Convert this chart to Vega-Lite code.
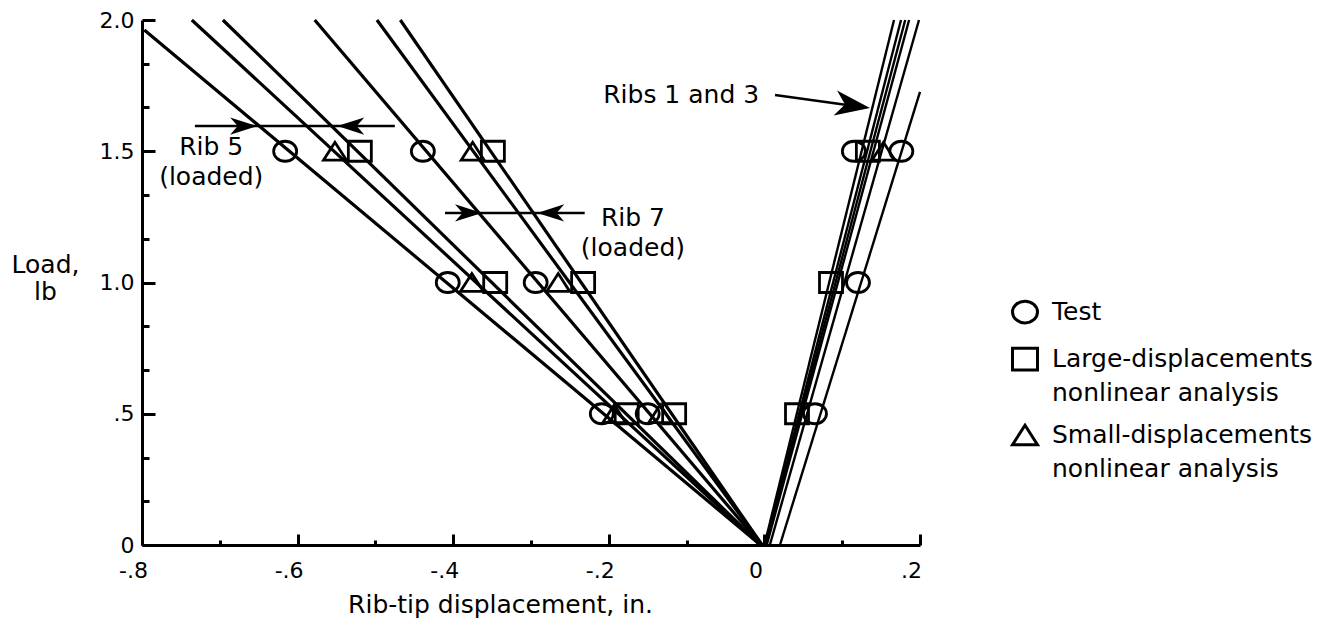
{
  "$schema": "https://vega.github.io/schema/vega-lite/v6.json",
  "width": 778,
  "height": 525,
  "autosize": {"type": "none"},
  "padding": {"left": 142, "top": 20, "right": 422, "bottom": 90},
  "background": "white",
  "config": {
    "font": "DejaVu Sans",
    "view": {"stroke": null},
    "axis": {"grid": false},
    "style": {"guide-label": {"lineHeight": 34}}
  },
  "datasets": {
    "lines": [
      {"line": "L1", "side": "left", "x": -0.797, "y": 1.962},
      {"line": "L1", "side": "left", "x": -0.005, "y": 0},
      {"line": "L2", "side": "left", "x": -0.736, "y": 2.0},
      {"line": "L2", "side": "left", "x": -0.005, "y": 0},
      {"line": "L3", "side": "left", "x": -0.696, "y": 2.0},
      {"line": "L3", "side": "left", "x": -0.005, "y": 0},
      {"line": "L4", "side": "left", "x": -0.578, "y": 2.0},
      {"line": "L4", "side": "left", "x": -0.004, "y": 0},
      {"line": "L5", "side": "left", "x": -0.498, "y": 2.0},
      {"line": "L5", "side": "left", "x": -0.003, "y": 0},
      {"line": "L6", "side": "left", "x": -0.468, "y": 2.0},
      {"line": "L6", "side": "left", "x": -0.003, "y": 0},
      {"line": "R1", "side": "right", "x": 0.0, "y": 0},
      {"line": "R1", "side": "right", "x": 0.1666, "y": 2.0},
      {"line": "R2", "side": "right", "x": 0.001, "y": 0},
      {"line": "R2", "side": "right", "x": 0.1756, "y": 2.0},
      {"line": "R3", "side": "right", "x": 0.002, "y": 0},
      {"line": "R3", "side": "right", "x": 0.181, "y": 2.0},
      {"line": "R4", "side": "right", "x": 0.003, "y": 0},
      {"line": "R4", "side": "right", "x": 0.186, "y": 2.0},
      {"line": "R5", "side": "right", "x": 0.007, "y": 0},
      {"line": "R5", "side": "right", "x": 0.1987, "y": 2.0},
      {"line": "R6", "side": "right", "x": 0.02, "y": 0},
      {"line": "R6", "side": "right", "x": 0.2, "y": 1.726}
    ],
    "points": [
      {"kind": "Test", "x": -0.616, "y": 1.5},
      {"kind": "Small-displacements nonlinear analysis", "x": -0.552, "y": 1.5},
      {"kind": "Large-displacements nonlinear analysis", "x": -0.52, "y": 1.5},
      {"kind": "Test", "x": -0.439, "y": 1.5},
      {"kind": "Small-displacements nonlinear analysis", "x": -0.375, "y": 1.5},
      {"kind": "Large-displacements nonlinear analysis", "x": -0.349, "y": 1.5},
      {"kind": "Test", "x": -0.407, "y": 1.0},
      {"kind": "Small-displacements nonlinear analysis", "x": -0.376, "y": 1.0},
      {"kind": "Large-displacements nonlinear analysis", "x": -0.346, "y": 1.0},
      {"kind": "Test", "x": -0.294, "y": 1.0},
      {"kind": "Small-displacements nonlinear analysis", "x": -0.265, "y": 1.0},
      {"kind": "Large-displacements nonlinear analysis", "x": -0.233, "y": 1.0},
      {"kind": "Test", "x": -0.209, "y": 0.5},
      {"kind": "Small-displacements nonlinear analysis", "x": -0.193, "y": 0.5},
      {"kind": "Large-displacements nonlinear analysis", "x": -0.177, "y": 0.5},
      {"kind": "Test", "x": -0.15, "y": 0.5},
      {"kind": "Small-displacements nonlinear analysis", "x": -0.134, "y": 0.5},
      {"kind": "Large-displacements nonlinear analysis", "x": -0.116, "y": 0.5},
      {"kind": "Test", "x": 0.115, "y": 1.5},
      {"kind": "Large-displacements nonlinear analysis", "x": 0.133, "y": 1.5},
      {"kind": "Small-displacements nonlinear analysis", "x": 0.153, "y": 1.5},
      {"kind": "Test", "x": 0.176, "y": 1.5},
      {"kind": "Large-displacements nonlinear analysis", "x": 0.0856, "y": 1.0},
      {"kind": "Test", "x": 0.1203, "y": 1.0},
      {"kind": "Large-displacements nonlinear analysis", "x": 0.0419, "y": 0.5},
      {"kind": "Test", "x": 0.065, "y": 0.5}
    ],
    "shafts": [
      {"x": -0.732, "y": 1.596, "x2": -0.475, "y2": 1.596},
      {"x": -0.4105, "y": 1.265, "x2": -0.231, "y2": 1.265},
      {"x": 0.0136, "y": 1.714, "x2": 0.125, "y2": 1.669}
    ],
    "heads": [
      {"dir": "right", "x": -0.652, "y": 1.596},
      {"dir": "left", "x": -0.549, "y": 1.596},
      {"dir": "right", "x": -0.363, "y": 1.265},
      {"dir": "left", "x": -0.292, "y": 1.265},
      {"dir": "slant", "x": 0.1357, "y": 1.665}
    ],
    "notes": [
      {"label": "Rib 5\n(loaded)", "x": -0.711, "y": 1.516},
      {"label": "Rib 7\n(loaded)", "x": -0.169, "y": 1.246},
      {"label": "Ribs 1 and 3", "x": -0.107, "y": 1.714}
    ]
  },
  "resolve": {"scale": {"x": "shared", "y": "shared"}},
  "layer": [
    {
      "data": {"name": "lines"},
      "transform": [{"filter": "datum.side == 'left'"}],
      "mark": {"type": "line", "color": "black", "strokeWidth": 3.2},
      "encoding": {
        "x": {
          "field": "x", "type": "quantitative",
          "scale": {"domain": [-0.8, 0.2], "nice": false, "zero": false},
          "axis": {
            "values": [-0.8, -0.7, -0.6, -0.5, -0.4, -0.3, -0.2, -0.1, 0, 0.1, 0.2],
            "labelExpr": "abs(datum.value*5 - round(datum.value*5)) > 0.001 ? '' : (datum.value == 0 ? '0' : replace(replace(format(datum.value, '.1f'), '\u2212', '-'), '0.', '.'))",
            "tickSize": {"condition": {"test": "abs(datum.value*5 - round(datum.value*5)) < 0.001", "value": -11}, "value": -5},
            "tickWidth": 3, "tickColor": "black",
            "domainWidth": 3, "domainColor": "black",
            "labelFontSize": 22, "labelColor": "black", "labelPadding": 26,
            "labelOffset": -9,
            "labelOverlap": false, "labelFlush": false, "labelBound": false,
            "title": "Rib-tip displacement, in.",
            "titleFontSize": 25, "titleFontWeight": "normal", "titleColor": "black",
            "titleX": 358, "titleY": 59, "titleBaseline": "middle", "titleAlign": "center"
          }
        },
        "y": {
          "field": "y", "type": "quantitative",
          "scale": {"domain": [0, 2], "nice": false, "zero": false},
          "axis": {
            "values": [0, 0.08333, 0.16667, 0.25, 0.33333, 0.41667, 0.5, 0.58333, 0.66667, 0.75, 0.83333, 0.91667, 1, 1.08333, 1.16667, 1.25, 1.33333, 1.41667, 1.5, 1.58333, 1.66667, 1.75, 1.83333, 1.91667, 2],
            "labelExpr": "abs(datum.value*2 - round(datum.value*2)) > 0.001 ? '' : (datum.value == 0 ? '0' : (datum.value < 1 ? '.5' : format(datum.value, '.1f')))",
            "tickSize": {"condition": {"test": "abs(datum.value*2 - round(datum.value*2)) < 0.001", "value": -13}, "value": -7},
            "tickWidth": 3, "tickColor": "black",
            "domainWidth": 3, "domainColor": "black",
            "labelFontSize": 22, "labelColor": "black", "labelPadding": 21,
            "labelOverlap": false, "labelFlush": false, "labelBound": false,
            "title": ["Load,", "lb"],
            "titleAngle": 0, "titleFontSize": 25, "titleFontWeight": "normal", "titleColor": "black",
            "titleX": -97, "titleY": 252, "titleBaseline": "alphabetic", "titleAlign": "center",
            "titleLineHeight": 27
          }
        },
        "detail": {"field": "line", "type": "nominal"}
      }
    },
    {
      "data": {"name": "lines"},
      "transform": [{"filter": "datum.side == 'right'"}],
      "mark": {"type": "line", "color": "black", "strokeWidth": 2.4},
      "encoding": {
        "x": {"field": "x", "type": "quantitative"},
        "y": {"field": "y", "type": "quantitative"},
        "detail": {"field": "line", "type": "nominal"}
      }
    },
    {
      "data": {"name": "shafts"},
      "mark": {"type": "rule", "color": "black", "strokeWidth": 2.5},
      "encoding": {
        "x": {"field": "x", "type": "quantitative"},
        "y": {"field": "y", "type": "quantitative"},
        "x2": {"field": "x2"},
        "y2": {"field": "y2"}
      }
    },
    {
      "data": {"name": "heads"},
      "transform": [{"filter": "datum.dir == 'right'"}],
      "mark": {"type": "point", "shape": "M0,0L-1,-0.32L-0.72,0L-1,0.32Z", "filled": true, "color": "black", "opacity": 1, "size": 2916, "strokeWidth": 0},
      "encoding": {
        "x": {"field": "x", "type": "quantitative"},
        "y": {"field": "y", "type": "quantitative"}
      }
    },
    {
      "data": {"name": "heads"},
      "transform": [{"filter": "datum.dir == 'left'"}],
      "mark": {"type": "point", "shape": "M0,0L1,-0.32L0.72,0L1,0.32Z", "filled": true, "color": "black", "opacity": 1, "size": 2916, "strokeWidth": 0},
      "encoding": {
        "x": {"field": "x", "type": "quantitative"},
        "y": {"field": "y", "type": "quantitative"}
      }
    },
    {
      "data": {"name": "heads"},
      "transform": [{"filter": "datum.dir == 'slant'"}],
      "mark": {"type": "point", "shape": "M0,0L-1,-0.36L-0.72,0L-1,0.36Z", "filled": true, "color": "black", "opacity": 1, "size": 4900, "strokeWidth": 0, "angle": 8},
      "encoding": {
        "x": {"field": "x", "type": "quantitative"},
        "y": {"field": "y", "type": "quantitative"}
      }
    },
    {
      "data": {"name": "points"},
      "mark": {"type": "point", "filled": false, "color": "black", "opacity": 1, "strokeWidth": 2.8, "size": 529},
      "encoding": {
        "x": {"field": "x", "type": "quantitative"},
        "y": {"field": "y", "type": "quantitative"},
        "shape": {
          "field": "kind", "type": "nominal",
          "scale": {
            "domain": ["Test", "Large-displacements nonlinear analysis", "Small-displacements nonlinear analysis"],
            "range": ["M-1,0A1,0.87,0,1,1,1,0A1,0.87,0,1,1,-1,0Z", "M-1,-0.87L1,-0.87L1,0.87L-1,0.87Z", "M-1,0.78L0,-0.78L1,0.78Z"]
          },
          "legend": {
            "orient": "none", "legendX": 869, "legendY": 278,
            "title": null, "padding": 0,
            "labelFontSize": 25, "labelColor": "black", "labelLimit": 0,
            "labelOffset": 13, "rowPadding": 13,
            "symbolSize": 625, "symbolStrokeWidth": 3, "symbolStrokeColor": "black", "symbolFillColor": "transparent",
            "labelExpr": "datum.label == 'Test' ? 'Test' : [substring(datum.label, 0, indexof(datum.label, ' ')), 'nonlinear analysis']",
            "encode": {"labels": {"update": {"lineHeight": {"value": 34}}}}
          }
        }
      }
    },
    {
      "data": {"name": "notes"},
      "mark": {"type": "text", "fontSize": 25, "color": "black", "align": "center", "baseline": "middle", "lineBreak": "\n", "lineHeight": 30},
      "encoding": {
        "x": {"field": "x", "type": "quantitative"},
        "y": {"field": "y", "type": "quantitative"},
        "text": {"field": "label"}
      }
    }
  ]
}
